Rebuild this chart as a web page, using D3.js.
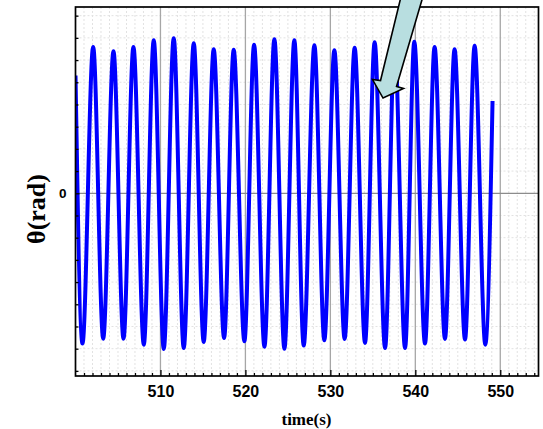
<!DOCTYPE html>
<html><head><meta charset="utf-8">
<script src="https://cdn.jsdelivr.net/npm/d3@7"></script>
<style>html,body{margin:0;padding:0;background:#fff;} svg{display:block;}</style>
</head><body>
<script>
// Extrema of the recorded oscillation (time in s, angle in rad), plus the first and last samples
const sampleTime = [500.0, 500.82, 502.08, 503.26, 504.47, 505.65, 506.82, 508.04, 509.21, 510.39, 511.56,
  512.74, 513.92, 515.09, 516.27, 517.49, 518.62, 519.88, 521.02, 522.24, 523.41, 524.59, 525.76,
  526.86, 528.12, 529.29, 530.47, 531.68, 532.86, 534.08, 535.21, 536.44, 537.56, 538.79, 539.88,
  541.14, 542.27, 543.49, 544.62, 545.85, 546.98, 548.24, 549.09];
const sampleTheta = [0.53, -0.677, 0.659, -0.655, 0.640, -0.655, 0.659, -0.682, 0.689, -0.701, 0.698,
  -0.697, 0.676, -0.670, 0.649, -0.652, 0.646, -0.667, 0.669, -0.691, 0.694, -0.700, 0.689,
  -0.686, 0.667, -0.662, 0.644, -0.656, 0.655, -0.674, 0.680, -0.697, 0.686, -0.697, 0.682,
  -0.677, 0.659, -0.656, 0.649, -0.659, 0.664, -0.682, 0.416];
const xTickLabels = [510, 520, 530, 540, 550];
const yTickLabels = [0];
const xMinorTicks = d3.range(501, 555, 1).filter(v => v % 10 !== 0);
const yMinorTicks = [-0.8, -0.7, -0.6, -0.5, -0.4, -0.3, -0.2, -0.1, 0.1, 0.2, 0.3, 0.4, 0.5, 0.6, 0.7, 0.8];
const arrowTip = {t: 536.2, theta: 0.429};

const W = 543, H = 429;
const P = {left: 75.5, right: 538.5, top: 7, bottom: 376};
const x = d3.scaleLinear().domain([500, 554.5]).range([P.left, P.right]);
const y = d3.scaleLinear().domain([-0.823, 0.839]).range([P.bottom, P.top]);

const svg = d3.select("body").append("svg").attr("width", W).attr("height", H);

svg.append("clipPath").attr("id", "clip").append("rect")
  .attr("x", P.left).attr("y", P.top).attr("width", P.right - P.left).attr("height", P.bottom - P.top);

// dotted minor grid
const grid = svg.append("g");
grid.selectAll(".vg").data(xMinorTicks).join("line")
  .attr("x1", d => x(d)).attr("x2", d => x(d)).attr("y1", P.top).attr("y2", P.bottom)
  .attr("stroke", "#e2e2e2").attr("stroke-width", 1).attr("stroke-dasharray", "2,2");
grid.selectAll(".hg").data(yMinorTicks).join("line")
  .attr("y1", d => y(d)).attr("y2", d => y(d)).attr("x1", P.left).attr("x2", P.right)
  .attr("stroke", "#e2e2e2").attr("stroke-width", 1).attr("stroke-dasharray", "2,2");
// major grid
grid.selectAll(".vm").data(xTickLabels).join("line")
  .attr("x1", d => x(d)).attr("x2", d => x(d)).attr("y1", P.top).attr("y2", P.bottom)
  .attr("stroke", "#a6a6a6").attr("stroke-width", 1.3);
grid.selectAll(".hm").data(yTickLabels).join("line")
  .attr("y1", d => y(d)).attr("y2", d => y(d)).attr("x1", P.left).attr("x2", P.right)
  .attr("stroke", "#8c8c8c").attr("stroke-width", 1.2);

// data line
const pts = sampleTime.map((t, i) => [t, sampleTheta[i]]);
svg.append("path").datum(pts).attr("clip-path", "url(#clip)")
  .attr("d", d3.line().x(d => x(d[0])).y(d => y(d[1])).curve(d3.curveMonotoneX))
  .attr("fill", "none").attr("stroke", "#0000ff").attr("stroke-width", 4);

// frame
svg.append("rect").attr("x", P.left).attr("y", P.top).attr("width", P.right - P.left).attr("height", P.bottom - P.top)
  .attr("fill", "none").attr("stroke", "#000").attr("stroke-width", 1.7);

// axes
const gB = svg.append("g").attr("transform", `translate(0,${P.bottom})`);
gB.call(d3.axisBottom(x).tickValues(xMinorTicks).tickSizeInner(-3).tickSizeOuter(0).tickFormat(""));
gB.append("g").call(d3.axisBottom(x).tickValues(xTickLabels).tickSizeInner(-6).tickSizeOuter(0).tickPadding(10).tickFormat(d3.format("d")));
gB.selectAll(".domain").remove();
gB.selectAll(".tick line").attr("stroke", "#000").attr("stroke-width", 1.3);
gB.selectAll("text").attr("font-family", "'Liberation Sans', Arial, sans-serif").attr("font-weight", "bold")
  .attr("font-size", 16).attr("fill", "#000");

const gL = svg.append("g").attr("transform", `translate(${P.left},0)`);
gL.call(d3.axisLeft(y).tickValues(yMinorTicks).tickSizeInner(-3).tickSizeOuter(0).tickFormat(""));
gL.append("g").call(d3.axisLeft(y).tickValues(yTickLabels).tickSizeInner(-4).tickSizeOuter(0).tickPadding(9).tickFormat(d3.format("d")));
gL.selectAll(".domain").remove();
gL.selectAll(".tick line").attr("stroke", "#000").attr("stroke-width", 1.3);
gL.selectAll("text").attr("font-family", "'Liberation Sans', Arial, sans-serif").attr("font-weight", "bold")
  .attr("font-size", 13.5).attr("fill", "#000");

// axis titles
svg.append("text").attr("transform", "translate(45,209) rotate(-90)").attr("text-anchor", "middle")
  .attr("font-family", "'Liberation Serif', 'Times New Roman', serif").attr("font-weight", "bold")
  .attr("font-size", 26).text("θ(rad)");
svg.append("text").attr("x", 306.5).attr("y", 425).attr("text-anchor", "middle")
  .attr("font-family", "'Liberation Serif', 'Times New Roman', serif").attr("font-weight", "bold")
  .attr("font-size", 17).text("time(s)");

// annotation arrow
const tx = x(arrowTip.t), ty = y(arrowTip.theta);
const arrowShape = [[18.5, -103.5], [-2.5, -17.5], [-10.5, -18.5], [0, 0], [20.5, -9.5], [13.5, -11.5], [40.5, -103.5]];
svg.append("path")
  .attr("d", "M" + arrowShape.map(p => [tx + p[0], ty + p[1]].join(",")).join("L") + "Z")
  .attr("fill", "#b8dee0").attr("stroke", "#000").attr("stroke-width", 1.6).attr("stroke-linejoin", "miter");
</script>
</body></html>
